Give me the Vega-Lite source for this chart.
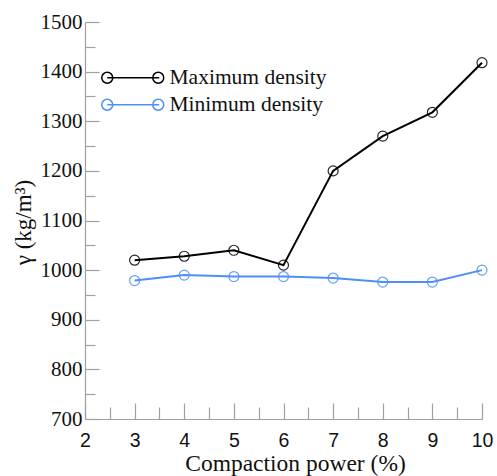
{
  "$schema": "https://vega.github.io/schema/vega-lite/v6.json",
  "width": 397,
  "height": 397,
  "autosize": {"type": "none"},
  "padding": {"left": 85, "top": 22, "right": 15, "bottom": 57},
  "background": "white",
  "config": {
    "view": {"stroke": null},
    "axis": {"grid": false, "domainColor": "#a0a0a0", "tickColor": "#a0a0a0", "domainWidth": 1.2, "tickWidth": 1.2, "labelColor": "#111", "titleColor": "#111", "titleFontWeight": "normal"}
  },
  "data": {
    "values": [
      {"x": 3, "y": 1020, "s": "Maximum density"},
      {"x": 4, "y": 1028, "s": "Maximum density"},
      {"x": 5, "y": 1040, "s": "Maximum density"},
      {"x": 6, "y": 1010, "s": "Maximum density"},
      {"x": 7, "y": 1200, "s": "Maximum density"},
      {"x": 8, "y": 1270, "s": "Maximum density"},
      {"x": 9, "y": 1318, "s": "Maximum density"},
      {"x": 10, "y": 1418, "s": "Maximum density"},
      {"x": 3, "y": 979, "s": "Minimum density"},
      {"x": 4, "y": 990, "s": "Minimum density"},
      {"x": 5, "y": 987, "s": "Minimum density"},
      {"x": 6, "y": 987, "s": "Minimum density"},
      {"x": 7, "y": 984, "s": "Minimum density"},
      {"x": 8, "y": 976, "s": "Minimum density"},
      {"x": 9, "y": 976, "s": "Minimum density"},
      {"x": 10, "y": 1000, "s": "Minimum density"}
    ]
  },
  "encoding": {
    "x": {
      "field": "x", "type": "quantitative",
      "scale": {"domain": [2, 10], "nice": false, "zero": false},
      "axis": {
        "values": [2, 2.5, 3, 3.5, 4, 4.5, 5, 5.5, 6, 6.5, 7, 7.5, 8, 8.5, 9, 9.5, 10],
        "labelExpr": "datum.value % 1 === 0 ? datum.value : ''",
        "labelOverlap": false,
        "labelFlush": false,
        "tickSize": {"condition": {"test": "datum.value % 1 === 0", "value": -16}, "value": -12},
        "labelPadding": 28,
        "labelFont": "Liberation Sans", "labelFontSize": 19.5,
        "title": "Compaction power (%)",
        "titleFont": "Liberation Serif", "titleFontSize": 23.5,
        "titleX": 210, "titleY": 51, "titleBaseline": "alphabetic"
      }
    },
    "y": {
      "field": "y", "type": "quantitative",
      "scale": {"domain": [700, 1500], "nice": false, "zero": false},
      "axis": {
        "values": [700, 750, 800, 850, 900, 950, 1000, 1050, 1100, 1150, 1200, 1250, 1300, 1350, 1400, 1450, 1500],
        "labelExpr": "datum.value % 100 === 0 ? datum.value : ''",
        "labelOverlap": false,
        "labelFlush": false,
        "tickSize": {"condition": {"test": "datum.value % 100 === 0", "value": -14}, "value": -10},
        "labelPadding": 17,
        "labelFont": "Liberation Serif", "labelFontSize": 21,
        "title": "γ (kg/m³)",
        "titleFont": "Liberation Serif", "titleFontSize": 23,
        "titleX": -62, "titleY": 200, "titleBaseline": "middle"
      }
    },
    "color": {
      "field": "s", "type": "nominal",
      "scale": {"domain": ["Maximum density", "Minimum density"], "range": ["#000000", "#4f8ff5"]}
    }
  },
  "layer": [
    {
      "mark": {"type": "line", "strokeWidth": 2},
      "encoding": {
        "color": {
          "field": "s", "type": "nominal",
          "scale": {"domain": ["Maximum density", "Minimum density"], "range": ["#000000", "#4f8ff5"]},
          "legend": {
            "title": null, "orient": "none", "legendX": 37, "legendY": 45,
            "padding": 0,
            "symbolType": "M-5.1,0L5.3,0M-4,0A1.1,1.1 0 1,0 -6.2,0A1.1,1.1 0 1,0 -4,0M6.2,0A1.1,1.1 0 1,0 4,0A1.1,1.1 0 1,0 6.2,0",
            "symbolSize": 100, "symbolStrokeWidth": 1.5, "symbolFillColor": "transparent",
            "labelFont": "Liberation Serif", "labelFontSize": 21.5, "labelColor": "#111",
            "labelOffset": 26, "rowPadding": 4, "labelLimit": 300
          }
        }
      }
    },
    {
      "mark": {"type": "point", "filled": false, "size": 100, "strokeWidth": 1.2, "opacity": 0.85},
      "encoding": {
        "color": {"field": "s", "type": "nominal", "legend": null}
      }
    }
  ]
}
